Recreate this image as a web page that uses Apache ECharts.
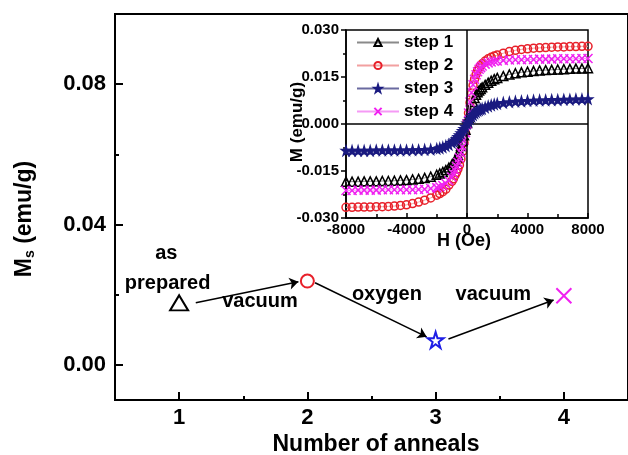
<!DOCTYPE html>
<html>
<head>
<meta charset="utf-8">
<script src="https://cdn.jsdelivr.net/npm/echarts@6/dist/echarts.min.js"></script>
<style>
  html, body { margin: 0; padding: 0; background: #fff; }
  #chart { width: 628px; height: 455px; }
</style>
</head>
<body>
<div id="chart"></div>
<script>
const FONT = "'Liberation Sans', Arial, sans-serif";

// main plot: saturation magnetisation after each anneal
const annealNo = [1, 2, 3, 4];
const msValues = [0.0177, 0.0239, 0.0071, 0.0197];
const annealTicks = [1, 2, 3, 4];
const annealMinorTicks = [1.5, 2.5, 3.5];
const msTicks = [0, 0.04, 0.08];
const msMinorTicks = [0.02, 0.06];

// arrows between the steps: [start, end] in data units
const arrows = [
  [[1.13, 0.0177], [1.93, 0.0237]],
  [[2.06, 0.0234], [2.93, 0.0080]],
  [[3.10, 0.0074], [3.92, 0.0185]]
];

// annealing notes: [text, x, y]
const notes = [
  ["as", 0.90, 0.0318],
  ["prepared", 0.91, 0.0231],
  ["vacuum", 1.63, 0.0180],
  ["oxygen", 2.62, 0.0202],
  ["vacuum", 3.45, 0.0202]
];

// inset: M(H) loops
const fieldH = [-8000, -7600, -7200, -6800, -6400, -6000, -5600, -5200, -4800, -4400, -4000, -3600, -3200, -2800, -2400,
  -2000, -1800, -1600, -1400, -1200, -1000, -900, -800, -700, -600, -500, -400, -300, -200, -100, 0,
  100, 200, 300, 400, 500, 600, 700, 800, 900, 1000, 1200, 1400, 1600, 1800, 2000,
  2400, 2800, 3200, 3600, 4000, 4400, 4800, 5200, 5600, 6000, 6400, 6800, 7200, 7600, 8000];

const step1 = [-0.0184, -0.0184, -0.0184, -0.0183, -0.0183, -0.0183, -0.0182, -0.0182, -0.0181, -0.018, -0.0179, -0.0177, -0.0175, -0.0172, -0.0168,
  -0.0162, -0.0158, -0.0153, -0.0147, -0.0139, -0.013, -0.0124, -0.0117, -0.0108, -0.0098, -0.0085, -0.007, -0.0054, -0.0036, -0.0018, 0.0003,
  0.002, 0.0038, 0.0055, 0.007, 0.0083, 0.0093, 0.0101, 0.0107, 0.0112, 0.0117, 0.0125, 0.0132, 0.0138, 0.0143, 0.0147,
  0.0153, 0.0158, 0.0162, 0.0165, 0.0167, 0.0169, 0.0171, 0.0172, 0.0173, 0.0174, 0.0175, 0.0176, 0.0177, 0.0177, 0.0178];

const step2 = [-0.0266, -0.0266, -0.0265, -0.0265, -0.0265, -0.0264, -0.0264, -0.0263, -0.0262, -0.026, -0.0258, -0.0254, -0.0249, -0.0243, -0.0236,
  -0.0227, -0.0222, -0.0216, -0.0208, -0.0195, -0.0183, -0.0175, -0.0164, -0.0155, -0.0144, -0.0131, -0.0112, -0.0088, -0.006, -0.0028, 0.0005,
  0.0035, 0.0068, 0.0098, 0.0123, 0.0143, 0.0158, 0.017, 0.0179, 0.0186, 0.0192, 0.0201, 0.0208, 0.0213, 0.0217, 0.022,
  0.0226, 0.0231, 0.0235, 0.0238, 0.024, 0.0242, 0.0243, 0.0244, 0.0245, 0.0246, 0.0246, 0.0247, 0.0247, 0.0248, 0.0248];

const step3 = [-0.0085, -0.0085, -0.0085, -0.0085, -0.0085, -0.0084, -0.0084, -0.0084, -0.0084, -0.0084, -0.0084, -0.0083, -0.0083, -0.0082, -0.0081,
  -0.0079, -0.0077, -0.0074, -0.007, -0.0066, -0.006, -0.0056, -0.0052, -0.0047, -0.0041, -0.0035, -0.0029, -0.0022, -0.0015, -0.0008, 0.0002,
  0.0009, 0.0016, 0.0023, 0.0029, 0.0034, 0.0038, 0.0042, 0.0045, 0.0047, 0.0049, 0.0053, 0.0057, 0.006, 0.0063, 0.0065,
  0.0068, 0.007, 0.0072, 0.0073, 0.0074, 0.0075, 0.0076, 0.0076, 0.0077, 0.0077, 0.0078, 0.0078, 0.0079, 0.0079, 0.008];

const step4 = [-0.0212, -0.0212, -0.0211, -0.0211, -0.0211, -0.0211, -0.021, -0.021, -0.021, -0.021, -0.021, -0.021, -0.0209, -0.0208, -0.0206,
  -0.0203, -0.02, -0.0196, -0.019, -0.0181, -0.0169, -0.0159, -0.0147, -0.0135, -0.0122, -0.0108, -0.0092, -0.0073, -0.0052, -0.0028, 0.0,
  0.0035, 0.007, 0.01, 0.0125, 0.0143, 0.0157, 0.0167, 0.0175, 0.018, 0.0185, 0.0191, 0.0195, 0.0198, 0.02, 0.0201,
  0.0203, 0.0204, 0.0205, 0.0205, 0.0206, 0.0206, 0.0207, 0.0207, 0.0207, 0.0208, 0.0208, 0.0208, 0.0208, 0.0209, 0.0209];

const stepNames = ["step 1", "step 2", "step 3", "step 4"];

const STAR = "path://M50,0L61,35L98,35L68,57L79,91L50,70L21,91L32,57L2,35L39,35Z";
const CROSS = "path://M0,0L10,10M10,0L0,10";

// marker look per step (main plot, inset)
const stepLook = [
  { symbol: "triangle", main: [18, 15], inset: 9, color: "#000", line: "#8a8a8a", fill: "transparent", z: 3 },
  { symbol: "circle", main: 13, inset: 8, color: "#e8202a", line: "#f2a0a0", fill: "transparent", z: 2 },
  { symbol: STAR, main: 16, inset: 9, color: "#1a1a80", line: "#6a6aa0", fill: "#1a1a80", z: 5 },
  { symbol: CROSS, main: 15, inset: 9, color: "#f020f0", line: "#f59af5", fill: "transparent", z: 4 }
];
const mainStarColor = "#1e1ee6";

const chart = echarts.init(document.getElementById("chart"), null, { renderer: "canvas" });

const baseText = { fontFamily: FONT, fontWeight: "bold", color: "#000" };

const mainPoints = annealNo.map((n, i) => {
  const look = stepLook[i];
  const edge = i === 2 ? mainStarColor : look.color;
  return {
    value: [n, msValues[i]],
    symbol: look.symbol,
    symbolSize: look.main,
    itemStyle: { color: "transparent", borderColor: edge, borderWidth: 2, opacity: 1 }
  };
});

const loops = [step1, step2, step3, step4].map((vals, i) => {
  const look = stepLook[i];
  return {
    name: stepNames[i],
    type: "line",
    xAxisIndex: 2,
    yAxisIndex: 2,
    data: fieldH.map((h, k) => [h, vals[k]]),
    symbol: look.symbol,
    symbolSize: look.inset,
    showAllSymbol: true,
    z: look.z,
    lineStyle: { color: look.line, width: 1 },
    itemStyle: { color: look.fill, borderColor: look.color, borderWidth: 1.5 },
    emphasis: { disabled: true },
    animation: false
  };
});

// zero cross-hair of the inset
loops[0].markLine = {
  silent: true,
  symbol: "none",
  label: { show: false },
  lineStyle: { color: "#000", width: 1.5, type: "solid" },
  data: [{ xAxis: 0 }, { yAxis: 0 }],
  animation: false
};

chart.setOption({
  backgroundColor: "#fff",
  animation: false,
  textStyle: { fontFamily: FONT },
  grid: [
    { left: 115, top: 14, width: 517, height: 386, show: true, borderColor: "#000", borderWidth: 2 },
    { left: 346, top: 30, width: 242, height: 188, show: true, borderColor: "#000", borderWidth: 1.5 }
  ],
  xAxis: [
    {
      type: "value", gridIndex: 0, min: 0.5, max: 4.5, position: "bottom",
      splitLine: { show: false },
      axisLine: { onZero: false, lineStyle: { color: "#000", width: 2 } },
      axisTick: { inside: true, length: 8, lineStyle: { width: 2 }, customValues: annealTicks },
      axisLabel: { ...baseText, fontSize: 22, margin: 7, customValues: annealTicks }
    },
    {
      type: "value", gridIndex: 0, min: 0.5, max: 4.5, position: "bottom",
      splitLine: { show: false },
      axisLine: { show: false, onZero: false },
      axisTick: { inside: true, length: 4, lineStyle: { width: 2, color: "#000" }, customValues: annealMinorTicks },
      axisLabel: { show: false }
    },
    {
      type: "value", gridIndex: 1, min: -8000, max: 8000, interval: 4000, position: "bottom",
      splitLine: { show: false },
      axisLine: { onZero: false, lineStyle: { color: "#000", width: 1.5 } },
      axisTick: { inside: true, length: 5, lineStyle: { width: 1.5 } },
      minorTick: { show: true, splitNumber: 2, length: 4, lineStyle: { color: "#000", width: 1.5 } },
      axisLabel: { ...baseText, fontSize: 15, margin: 4, formatter: (v) => String(v) }
    }
  ],
  yAxis: [
    {
      type: "value", gridIndex: 0, min: -0.01, max: 0.1, position: "left",
      splitLine: { show: false },
      axisLine: { onZero: false, lineStyle: { color: "#000", width: 2 } },
      axisTick: { inside: true, length: 8, lineStyle: { width: 2 }, customValues: msTicks },
      axisLabel: { ...baseText, fontSize: 22, margin: 9, customValues: msTicks, formatter: (v) => v.toFixed(2) }
    },
    {
      type: "value", gridIndex: 0, min: -0.01, max: 0.1, position: "left",
      splitLine: { show: false },
      axisLine: { show: false, onZero: false },
      axisTick: { inside: true, length: 4, lineStyle: { width: 2, color: "#000" }, customValues: msMinorTicks },
      axisLabel: { show: false }
    },
    {
      type: "value", gridIndex: 1, min: -0.03, max: 0.03, interval: 0.015, position: "left",
      splitLine: { show: false },
      axisLine: { onZero: false, lineStyle: { color: "#000", width: 1.5 } },
      axisTick: { inside: false, length: 5, lineStyle: { width: 1.5 } },
      minorTick: { show: true, splitNumber: 2, length: 3, lineStyle: { color: "#000", width: 1.5 } },
      axisLabel: { ...baseText, fontSize: 15, margin: 7, formatter: (v) => v.toFixed(3) }
    }
  ],
  legend: {
    data: stepNames,
    orient: "vertical",
    left: 356,
    top: 34,
    padding: 0,
    itemGap: 6,
    itemWidth: 42,
    itemHeight: 9,
    z: 10,
    textStyle: { ...baseText, fontSize: 17 }
  },
  graphic: [
    {
      type: "text", x: 25, y: 219, rotation: Math.PI / 2, z: 10,
      style: {
        text: "{m|M}{s|s}{m| (emu/g)}",
        align: "center", verticalAlign: "middle", fill: "#000",
        rich: {
          m: { fontFamily: FONT, fontWeight: "bold", fontSize: 23 },
          s: { fontFamily: FONT, fontWeight: "bold", fontSize: 14, padding: [11, 0, 0, 0] }
        }
      }
    },
    {
      type: "text", x: 376, y: 445, z: 10,
      style: { text: "Number of anneals", font: "bold 23px " + FONT, fill: "#000", align: "center", verticalAlign: "middle" }
    },
    {
      type: "text", x: 297, y: 122, rotation: Math.PI / 2, z: 10,
      style: { text: "M (emu/g)", font: "bold 17px " + FONT, fill: "#000", align: "center", verticalAlign: "middle" }
    },
    {
      type: "text", x: 464, y: 241, z: 10,
      style: { text: "H (Oe)", font: "bold 18px " + FONT, fill: "#000", align: "center", verticalAlign: "middle" }
    }
  ],
  series: [
    {
      type: "scatter",
      xAxisIndex: 0,
      yAxisIndex: 0,
      data: mainPoints,
      z: 3,
      itemStyle: { opacity: 1 },
      markLine: {
        silent: true,
        symbol: ["none", "arrow"],
        symbolSize: 9,
        label: { show: false },
        lineStyle: { color: "#000", width: 1.5, type: "solid", opacity: 1 },
        data: arrows.map(([a, b]) => [{ coord: a }, { coord: b }])
      }
    },
    {
      type: "scatter",
      xAxisIndex: 0,
      yAxisIndex: 0,
      symbolSize: 0,
      silent: true,
      itemStyle: { opacity: 1 },
      data: notes.map(([t, x, y]) => ({ value: [x, y], name: t })),
      label: {
        show: true,
        position: "inside",
        formatter: (p) => p.name,
        ...baseText,
        fontSize: 20
      }
    },
    ...loops
  ]
});
</script>
</body>
</html>
